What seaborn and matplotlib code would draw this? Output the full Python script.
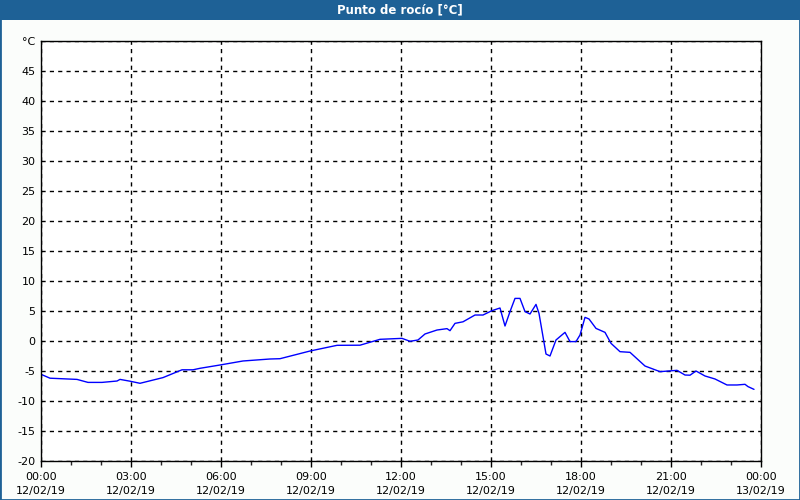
import numpy as np
import matplotlib
matplotlib.use("Agg")
import matplotlib.pyplot as plt
import matplotlib.dates as mdates
from matplotlib.patches import Rectangle
import pandas as pd
import seaborn as sns

# Punto de rocio - 12/02/19
horas = ["00:00", "00:18", "01:12", "01:34", "02:02", "02:32", "02:38", "02:58",
         "03:18", "04:04", "04:42", "05:04", "05:18", "05:58", "06:44", "07:38",
         "07:58", "08:58", "09:52", "10:38", "11:18", "12:02", "12:18", "12:34",
         "12:48", "13:12", "13:32", "13:38", "13:48", "14:04", "14:28", "14:44",
         "15:02", "15:18", "15:28", "15:38", "15:48", "15:58", "16:08", "16:18",
         "16:30", "16:36", "16:50", "16:58", "17:10", "17:28", "17:38", "17:50",
         "17:58", "18:08", "18:16", "18:30", "18:48", "19:00", "19:18", "19:38",
         "20:08", "20:38", "21:12", "21:28", "21:38", "21:50", "22:08", "22:28",
         "22:52", "23:12", "23:28", "23:34", "23:46"]
punto_rocio = [-5.55, -6.2, -6.4, -6.9, -6.9, -6.67, -6.4, -6.7,
               -7.05, -6.1, -4.8, -4.8, -4.55, -4.0, -3.33, -3.0,
               -2.95, -1.67, -0.72, -0.7, 0.28, 0.44, -0.05, 0.17,
               1.17, 1.83, 2.06, 1.72, 2.94, 3.2, 4.33, 4.33,
               5.06, 5.5, 2.5, 4.9, 7.1, 7.1, 4.9, 4.5,
               6.1, 4.6, -2.17, -2.5, 0.17, 1.44, -0.1, -0.1,
               1.0, 3.94, 3.67, 2.1, 1.44, -0.39, -1.78, -1.89,
               -4.17, -5.11, -4.89, -5.67, -5.7, -5.0, -5.83, -6.33,
               -7.33, -7.33, -7.22, -7.6, -8.06]

y_ticks = list(range(-20, 51, 5))
y_labels = [str(v) for v in y_ticks[:-1]] + ["°C"]
titulo = "Punto de rocío [°C]"

fondo = "#fbfdfb"
azul_barra = "#1e6196"

df = pd.DataFrame({"hora": pd.to_datetime("2019-02-12 " + pd.Series(horas)),
                   "valor": punto_rocio})

sns.set_style("white")
plt.rcParams["font.family"] = ["DejaVu Sans"]

fig = plt.figure(figsize=(8, 5), dpi=100, facecolor=fondo)
ax = fig.add_axes([41 / 800, 39 / 500, 720 / 800, 420 / 500])
ax.set_facecolor("white")

sns.lineplot(data=df, x="hora", y="valor", color="#0000ff", linewidth=1, ax=ax)

inicio = pd.Timestamp("2019-02-12 00:00")
fin = pd.Timestamp("2019-02-13 00:00")
ax.set_xlim(inicio, fin)
ax.set_ylim(-20, 50)
ax.set_yticks(y_ticks)
ax.set_yticklabels(y_labels)
ax.xaxis.set_major_locator(mdates.HourLocator(byhour=range(0, 24, 3)))
ax.xaxis.set_minor_locator(mdates.HourLocator())
ax.xaxis.set_major_formatter(mdates.DateFormatter("%H:%M\n%d/%m/%y"))
ax.set_xlabel("")
ax.set_ylabel("")
for lbl in ax.get_xticklabels():
    lbl.set_linespacing(1.5)

ax.grid(True, which="major", color="black", linestyle=(0, (3, 3)), linewidth=1)
ax.tick_params(axis="y", length=0, pad=4, labelsize=8, colors="black")
ax.tick_params(axis="x", which="major", length=4, width=1, pad=4, labelsize=8,
               colors="black", direction="out", bottom=True)
ax.tick_params(axis="x", which="minor", length=3, width=1, direction="out", bottom=True)
for s in ax.spines.values():
    s.set_color("black")
    s.set_linewidth(1)

# barra del titulo y borde de la ventana
fig.patches.append(Rectangle((0, 1 - 20 / 500), 1, 20 / 500, transform=fig.transFigure,
                             facecolor=azul_barra, edgecolor="none", zorder=0))
fig.patches.append(Rectangle((0, 0), 1, 1, transform=fig.transFigure,
                             facecolor="none", edgecolor=azul_barra, linewidth=2, zorder=5))
fig.text(0.5, 1 - 10 / 500, titulo, color="white", fontsize=8.5, fontweight="bold",
         ha="center", va="center")

fig.savefig("out.png", dpi=100, facecolor=fondo)
